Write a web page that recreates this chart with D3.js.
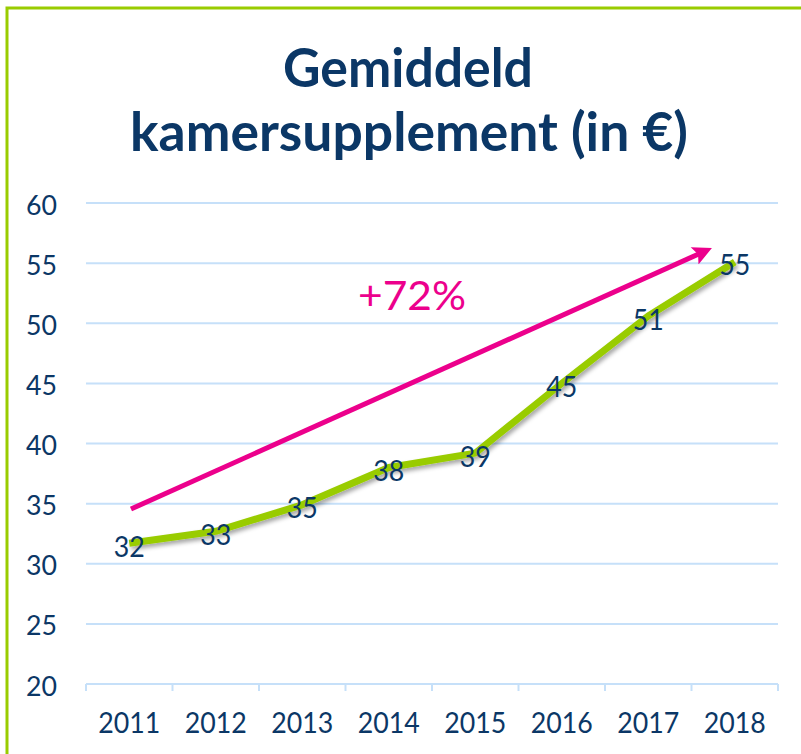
<!DOCTYPE html>
<html>
<head>
<meta charset="utf-8">
<script src="https://cdn.jsdelivr.net/npm/d3@7"></script>
<style>
html,body{margin:0;padding:0;background:#fff;}
svg{display:block;}
text{font-family:Lato,"Noto Sans",sans-serif;}
</style>
</head>
<body>
<svg id="chart" width="801" height="754"></svg>
<script>
const titleLines = ["Gemiddeld", "kamersupplement (in €)"];
const years = ["2011","2012","2013","2014","2015","2016","2017","2018"];
const values = [31.7, 32.7, 34.9, 38.0, 39.2, 45.0, 50.6, 55.1];
const valueLabels = ["32","33","35","38","39","45","51","55"];
const yTicks = [20,25,30,35,40,45,50,55,60];
const arrowFrom = [0.02, 34.55];   // [year index, value]
const arrowTo = [6.72, 56.2];
const annotationText = "+72%";

const svg = d3.select("#chart");
const W = 801, H = 754;
const navy = "#0b3766", green = "#99cc00", pink = "#ec008c", grid = "#c6e0f9";

// frame
svg.append("rect").attr("x",0).attr("y",0).attr("width",W).attr("height",H).attr("fill","#fff");
svg.append("path").attr("d",`M7,${H+5}V8H${W+5}`).attr("fill","none").attr("stroke",green).attr("stroke-width",3);

// title (condensed to mimic Calibri proportions)
const titleTargets = [[408, 87, 250], [409, 151, 558]];
svg.append("g").selectAll("text").data(titleLines).join("text")
  .attr("x",(d,i)=>titleTargets[i][0]).attr("y",(d,i)=>titleTargets[i][1])
  .attr("text-anchor","middle").attr("fill",navy).attr("font-weight","bold")
  .attr("font-size",54)
  .attr("textLength",(d,i)=>titleTargets[i][2]).attr("lengthAdjust","spacingAndGlyphs")
  .text(d=>d);

const x = d3.scaleBand().domain(years).range([86,778]);
const y = d3.scaleLinear().domain([20,60]).range([684,203]);
const xi = d3.scaleLinear().domain([0, years.length-1])
  .range([x(years[0])+x.bandwidth()/2, x(years[years.length-1])+x.bandwidth()/2]);

// gridlines
svg.append("g").selectAll("line").data(yTicks.slice(1)).join("line")
  .attr("x1",86).attr("x2",778).attr("y1",d=>y(d)).attr("y2",d=>y(d))
  .attr("stroke",grid).attr("stroke-width",2);

// x axis
const xAxis = svg.append("g").attr("transform",`translate(0,${y(20)})`);
xAxis.append("line").attr("x1",86).attr("x2",778).attr("stroke",grid).attr("stroke-width",2);
const bounds = years.map(d=>x(d)).concat([x(years[years.length-1])+x.bandwidth()]);
xAxis.selectAll("line.tick").data(bounds).join("line").attr("class","tick")
  .attr("x1",d=>d).attr("x2",d=>d).attr("y1",0).attr("y2",7)
  .attr("stroke",grid).attr("stroke-width",2);
xAxis.selectAll("text").data(years).join("text")
  .attr("x",d=>x(d)+x.bandwidth()/2).attr("y",38)
  .attr("text-anchor","middle").attr("dominant-baseline","central")
  .attr("fill",navy).attr("font-size",28)
  .attr("textLength",62).attr("lengthAdjust","spacingAndGlyphs").text(d=>d);

// y labels
svg.append("g").selectAll("text").data(yTicks).join("text")
  .attr("x",57).attr("y",d=>y(d)+1)
  .attr("text-anchor","end").attr("dominant-baseline","central")
  .attr("fill",navy).attr("font-size",27)
  .attr("textLength",31).attr("lengthAdjust","spacingAndGlyphs").text(d=>d);

// shadow filter & arrowhead
const defs = svg.append("defs");
const f = defs.append("filter").attr("id","shadow").attr("x","-10%").attr("y","-10%").attr("width","130%").attr("height","130%");
f.append("feDropShadow").attr("dx",2).attr("dy",3).attr("stdDeviation",2)
  .attr("flood-color","#000").attr("flood-opacity",0.35);
defs.append("marker").attr("id","arrowhead").attr("viewBox","0 0 10 10")
  .attr("refX",4).attr("refY",5).attr("markerWidth",4.4).attr("markerHeight",3.8)
  .attr("markerUnits","strokeWidth").attr("orient","auto")
  .append("path").attr("d","M0,0L10,5L0,10L2,5Z").attr("fill",pink);

// line
const line = d3.line().x((d,i)=>x(years[i])+x.bandwidth()/2).y(d=>y(d));
svg.append("path").datum(values).attr("d",line).attr("fill","none")
  .attr("stroke",green).attr("stroke-width",7).attr("stroke-linejoin","round")
  .attr("filter","url(#shadow)");

// value labels
svg.append("g").selectAll("text").data(values).join("text")
  .attr("x",(d,i)=>x(years[i])+x.bandwidth()/2).attr("y",d=>y(d)+2)
  .attr("text-anchor","middle").attr("dominant-baseline","central")
  .attr("fill",navy).attr("font-size",29)
  .attr("textLength",31).attr("lengthAdjust","spacingAndGlyphs")
  .text((d,i)=>valueLabels[i]);

// arrow
svg.append("line")
  .attr("x1",xi(arrowFrom[0])).attr("y1",y(arrowFrom[1]))
  .attr("x2",xi(arrowTo[0])-9).attr("y2",y(arrowTo[1])+4)
  .attr("stroke",pink).attr("stroke-width",5).attr("marker-end","url(#arrowhead)");

svg.append("text").attr("x",412).attr("y",295).attr("text-anchor","middle")
  .attr("dominant-baseline","central").attr("fill",pink).attr("font-size",40)
  .attr("textLength",108).attr("lengthAdjust","spacingAndGlyphs")
  .text(annotationText);
</script>
</body>
</html>
